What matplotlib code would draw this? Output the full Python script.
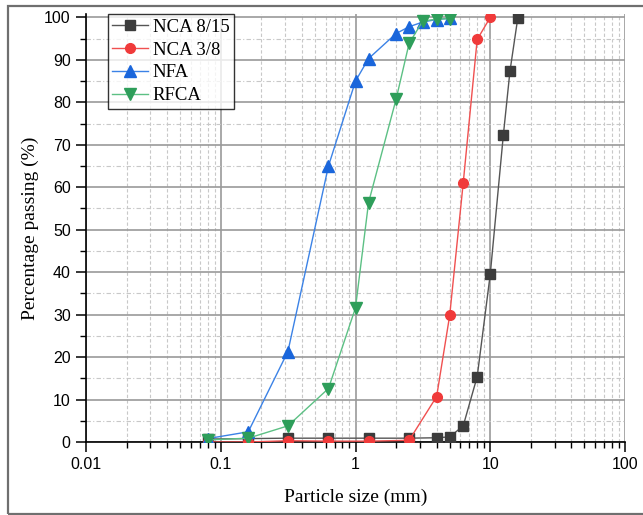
import matplotlib.pyplot as plt
from matplotlib.patches import Rectangle
from matplotlib.ticker import LogLocator, MultipleLocator, FixedLocator, FixedFormatter

# sieve sizes (mm) and percentage passing for each aggregate
nca815_size = [0.08, 0.16, 0.315, 0.63, 1.25, 2.5, 4, 5, 6.3, 8, 10, 12.5, 14, 16]
nca815_pass = [0.7, 0.8, 0.9, 0.9, 0.9, 0.9, 1.0, 1.2, 3.8, 15.4, 39.5, 72.2, 87.3, 99.8]

nca38_size = [0.08, 0.16, 0.315, 0.63, 1.25, 2.5, 4, 5, 6.3, 8, 10]
nca38_pass = [0.0, 0.0, 0.3, 0.2, 0.2, 0.4, 10.7, 29.8, 61.0, 94.8, 100.0]

nfa_size = [0.08, 0.16, 0.315, 0.63, 1, 1.25, 2, 2.5, 3.15, 4, 5]
nfa_pass = [0.8, 2.4, 21.3, 65.0, 85.0, 90.3, 96.2, 97.8, 98.9, 99.5, 99.8]

rfca_size = [0.08, 0.16, 0.315, 0.63, 1, 1.25, 2, 2.5, 3.15, 4, 5]
rfca_pass = [0.5, 0.9, 3.8, 12.6, 31.6, 56.4, 80.7, 93.9, 99.1, 99.6, 99.7]

x_ticks = [0.01, 0.1, 1, 10, 100]
x_labels = ["0.01", "0.1", "1", "10", "100"]

fig = plt.figure(figsize=(6.43, 5.15), dpi=100)
ax = fig.add_axes([86 / 643, 1 - 442 / 515, (625 - 86) / 643, (442 - 14) / 515])

# outer frame around the whole graph page
fig.patches.append(Rectangle((8 / 643, 1 / 515), 1.2, 1 - 7 / 515, transform=fig.transFigure,
                             fill=False, edgecolor="#6f6f6f", lw=1.6, clip_on=False))

ax.plot(nca815_size, nca815_pass, color="#555555", lw=1.0, marker="s", ms=6.5,
        mfc="#3c3c3c", mec="#3c3c3c", label="NCA 8/15", zorder=3)
ax.plot(nca38_size, nca38_pass, color="#f05050", lw=1.0, marker="o", ms=7,
        mfc="#f03a3a", mec="#f03a3a", label="NCA 3/8", zorder=3)
ax.plot(nfa_size, nfa_pass, color="#3b82e6", lw=1.0, marker="^", ms=8,
        mfc="#1a66db", mec="#1a66db", label="NFA", zorder=3)
ax.plot(rfca_size, rfca_pass, color="#5cc084", lw=1.0, marker="v", ms=8,
        mfc="#2e9e5a", mec="#2e9e5a", label="RFCA", zorder=3)

ax.set_xscale("log")
ax.set_xlim(0.01, 100)
ax.set_ylim(0, 100.8)

ax.xaxis.set_major_locator(FixedLocator(x_ticks))
ax.xaxis.set_major_formatter(FixedFormatter(x_labels))
ax.xaxis.set_minor_locator(LogLocator(base=10, subs=range(2, 10)))
ax.yaxis.set_major_locator(MultipleLocator(10))
ax.yaxis.set_minor_locator(MultipleLocator(5))

ax.grid(True, which="major", color="#9a9a9a", lw=1.2, zorder=0)
ax.grid(True, which="minor", axis="x", color="#c8c8c8", lw=0.8, ls=(0, (3, 2)), zorder=0)
ax.grid(True, which="minor", axis="y", color="#c8c8c8", lw=0.8, ls=(0, (4, 2, 1, 2)), zorder=0)
ax.set_axisbelow(True)

for side in ("top", "right"):
    ax.spines[side].set_visible(False)
for side in ("left", "bottom"):
    ax.spines[side].set_linewidth(1.2)

ax.tick_params(which="major", direction="out", length=7, width=1.1, pad=4,
               labelsize=11.5, labelfontfamily="Liberation Sans")
ax.tick_params(which="minor", direction="out", length=4, width=1.0)

ax.set_xlabel("Particle size (mm)", family="Liberation Serif", fontsize=14, labelpad=12)
ax.set_ylabel("Percentage passing (%)", family="Liberation Serif", fontsize=14, labelpad=4)

leg = ax.legend(loc="upper left", bbox_to_anchor=(0.04, 1.0), prop={"family": "Liberation Serif", "size": 13.5},
                frameon=True, fancybox=False, edgecolor="black", borderpad=0.25,
                labelspacing=0.3, handlelength=1.9, handletextpad=0.25, borderaxespad=0)
leg.get_frame().set_linewidth(1.0)

fig.savefig("out.png", dpi=100)
